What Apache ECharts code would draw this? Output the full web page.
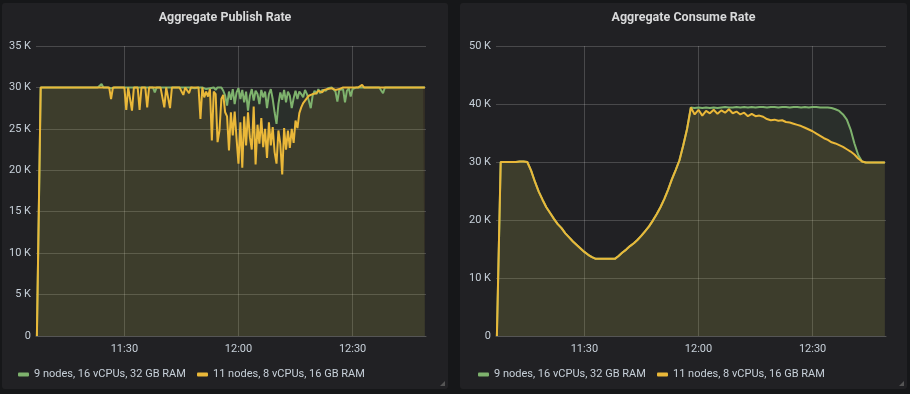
<!DOCTYPE html>
<html><head><meta charset="utf-8">
<script src="https://cdn.jsdelivr.net/npm/echarts@6/dist/echarts.min.js"></script>
<style>
html,body{margin:0;padding:0;background:#161719;width:910px;height:394px;overflow:hidden}
.panel{position:absolute;top:3px;height:386px;background:#212124;border-radius:3px}
#p1{left:2px;width:446px}
#p2{left:460px;width:447px}
</style></head><body>
<div id="p1" class="panel"></div><div id="p2" class="panel"></div>
<script>
// ---- data (values in thousands) ----
const seriesNames = ['9 nodes, 16 vCPUs, 32 GB RAM', '11 nodes, 8 vCPUs, 16 GB RAM'];
const titles = ['Aggregate Publish Rate', 'Aggregate Consume Rate'];
const startTime = '11:07';            // first sample
const publishStepSec = 30;            // publish sampling step
const consumeStepSec = 60;            // consume sampling step
const yTicksPublish = [0, 5, 10, 15, 20, 25, 30, 35];
const yTicksConsume = [0, 10, 20, 30, 40, 50];
const xTickLabels = ['11:30', '12:00', '12:30'];

// Publish rate, 30 s samples from 11:07
const publishGreen = [
  0,15,30,30,30,30,30,30,30,30,
  30,30.1,30,30,30,30,30,30,30,30,
  30,30,30,30,30,30,30,30,30,30,
  30,30,30,30,30.4,30,30,30,30,29.9,
  30,30,30,30,30,30,30,30,30,30,
  30,30,30,30,30,30,30,30,30,30,
  30,30,29.4,30,30,30,30,30,30,30,
  30,30,30,30,30,30,29.8,30,30,30,
  30,30,30,29.9,30,30,30,30,30,29.8,
  30,29.9,30,30,29.7,30,29.8,30,29.6,29.0,
  27.8,29.5,28.5,29.8,28.0,29.4,29.9,28.6,29.7,28.2,
  29.5,27.2,29.0,29.8,28.4,29.6,29.2,28.0,29.7,28.8,
  29.5,27.5,29.2,29.8,28.6,27.0,25.6,28.0,29.4,28.5,
  29.7,28.2,29.5,29.0,27.5,28.7,29.6,28.6,29.5,29.2,
  28.8,29.7,29.2,28.4,27.5,29.0,29.6,29.2,29.8,29.3,
  29.7,29.9,29.6,29.9,29.7,30.0,29.8,29.5,28.3,29.7,
  29.9,29.8,28.2,29.6,29.9,28.9,29.8,30,30,30,
  30,30,30,30,30,30,30,30,30,30,
  30,30,29.3,30,30,30,30,30,30,30,
  30,30,30,30,30,30,30,30,30,30,
  30,30,30,30,30
];
const publishYellow = [
  0,15,30,30,30,30,30,30,30,30,
  30,30,30,30,30,30,30,30,30,30,
  30,30,30,30,30,30,30,30,30,30,
  30,30,30,30,30,30,30,30,30,28.6,
  30,30,30,30,30,30,30,27.3,30,30,
  27.2,30,30,30,27.3,30,30,30,27.6,30,
  30,30,30,30,30,30,30,27.6,30,30,
  27.5,30,30,30,30,30,30,29.1,30,30,
  29.3,30,30,30,30,30,26.2,30,28.8,29.5,
  28.9,29.8,23.6,29.5,29.2,23.4,24.8,28.6,29.1,27.0,
  26.5,22.4,27.0,24.2,27.1,23.8,20.8,25.8,20.3,26.5,
  23.0,27.0,24.0,22.5,27.7,20.7,25.5,23.2,26.3,22.8,
  25.0,21.5,25.8,23.0,25.2,22.2,20.8,24.8,23.2,19.5,
  25.1,22.5,24.8,22.7,25.0,23.3,26.0,25.1,26.9,27.6,
  28.1,28.4,28.3,29.0,28.8,29.2,29.4,29.3,29.6,29.5,
  29.4,29.7,29.6,29.8,29.7,29.9,29.8,29.7,29.9,29.8,
  29.9,30,29.9,30,30,30,30,30,30,30,
  30,30.3,30,30,30,30,30,30,30,30,
  30,30,30,30,30,30,30,30,30,30,
  30,30,30,30,30,30,30,30,30,30,
  30,30,30,30,30
];

// Consume rate, 60 s samples from 11:07
const consumeGreen = [
  0,30.0,30.0,30.0,30.0,30.0,30.1,30.1,30.0,28.5,
  26.6,24.9,23.5,22.2,21.2,20.2,19.3,18.6,17.7,17.0,
  16.3,15.7,15.1,14.5,14.0,13.6,13.3,13.3,13.3,13.3,
  13.3,13.3,13.8,14.4,14.9,15.5,16.0,16.6,17.3,18.1,
  18.9,19.9,21.0,22.2,23.6,25.2,27.0,28.6,30.3,32.9,
  35.7,39.4,39.3,39.4,39.3,39.4,39.3,39.4,39.3,39.4,
  39.5,39.4,39.4,39.5,39.4,39.5,39.4,39.5,39.4,39.5,
  39.5,39.4,39.5,39.5,39.4,39.5,39.5,39.4,39.5,39.5,
  39.4,39.5,39.4,39.5,39.5,39.4,39.4,39.4,39.3,39.1,
  38.8,38.2,37.3,35.6,33.2,31.2,30.1,29.9,29.9,29.9,
  29.9,29.9,29.9
];
const consumeYellow = [
  0,30.0,30.0,30.0,30.0,30.0,30.1,30.1,30.0,28.5,
  26.6,24.9,23.5,22.2,21.2,20.2,19.3,18.6,17.7,17.0,
  16.3,15.7,15.1,14.5,14.0,13.6,13.3,13.3,13.3,13.3,
  13.3,13.3,13.8,14.4,14.9,15.5,16.0,16.6,17.3,18.1,
  18.9,19.9,21.0,22.2,23.6,25.2,27.0,28.6,30.3,32.9,
  35.7,39.4,38.2,39.0,38.0,38.8,38.4,39.0,38.3,38.9,
  38.5,39.1,38.4,38.7,38.2,38.5,37.9,38.3,37.9,38.0,
  37.8,37.4,37.2,37.3,37.1,37.2,36.9,36.8,36.6,36.4,
  36.2,35.9,35.6,35.3,34.9,34.5,34.1,33.8,33.4,33.2,
  32.9,32.6,32.2,31.8,31.3,30.6,30.1,29.9,29.9,29.9,
  29.9,29.9,29.9
];

// ---- build (x in minutes of the day) ----
function hm(s){ const [h,m]=s.split(':').map(Number); return h*60+m; }
function times(n, stepSec){ const t0 = hm(startTime); const a=[]; for(let i=0;i<n;i++) a.push(t0 + i*stepSec/60); return a; }
function pairs(ts, vals){ return vals.map((v,i)=>[ts[i], v]); }
const xMin = hm('11:06') + 46/60;
const xMax = hm('12:49') + 18/60;
const xTickValues = xTickLabels.map(hm);
const GREEN = '#7eb26d', YELLOW = '#eab839';
const FONT = 'Roboto, "Open Sans", sans-serif';
function fmtHM(v){ const h=Math.floor(v/60), m=Math.round(v-h*60); return String(h).padStart(2,'0')+':'+String(m).padStart(2,'0'); }

function makeOption(title, ts, g, y, yTicks, grid, legendLefts){
  const yInt = yTicks[1]-yTicks[0];
  const legendBase = { top: 366, padding: 0, itemWidth: 11, itemHeight: 4, itemGap: 11, icon: 'roundRect',
      textStyle: { color: '#c7d0d9', fontSize: 11, fontFamily: FONT } };
  return {
    animation: false,
    title: { text: title, left: 'center', top: 8, padding: 0,
      textStyle: { color: '#d8d9da', fontSize: 12.5, fontWeight: 'bold', fontFamily: FONT } },
    legend: [
      Object.assign({}, legendBase, { left: legendLefts[0], data: [seriesNames[0]] }),
      Object.assign({}, legendBase, { left: legendLefts[1], data: [seriesNames[1]] })
    ],
    grid: grid,
    xAxis: { type: 'value', min: xMin, max: xMax,
      axisLine: { show: true, onZero: false, lineStyle: { color: '#555' } },
      axisTick: { show: false, customValues: xTickValues },
      splitLine: { show: true, lineStyle: { color: 'rgba(255,255,255,0.18)', width: 1 } },
      axisLabel: { color: '#c7d0d9', fontSize: 11, fontFamily: FONT, margin: 8,
        customValues: xTickValues, formatter: fmtHM } },
    yAxis: { type: 'value', min: yTicks[0], max: yTicks[yTicks.length-1], interval: yInt,
      axisLine: { show: false }, axisTick: { show: false },
      splitLine: { show: true, lineStyle: { color: 'rgba(255,255,255,0.18)', width: 1 } },
      axisLabel: { color: '#c7d0d9', fontSize: 11, fontFamily: FONT, margin: 5,
        formatter: v => v === 0 ? '0' : v + ' K' } },
    graphic: [{ type: 'polygon', right: 3, bottom: 3,
      shape: { points: [[0,5],[5,0],[5,5]] }, style: { fill: '#555' } }],
    series: [
      { name: seriesNames[0], type: 'line', data: pairs(ts, g), showSymbol: false, symbol: 'none',
        lineStyle: { color: GREEN, width: 2 }, itemStyle: { color: GREEN },
        areaStyle: { color: GREEN, opacity: 0.1 } },
      { name: seriesNames[1], type: 'line', data: pairs(ts, y), showSymbol: false, symbol: 'none',
        lineStyle: { color: YELLOW, width: 2 }, itemStyle: { color: YELLOW },
        areaStyle: { color: YELLOW, opacity: 0.1 } }
    ]
  };
}

const c1 = echarts.init(document.getElementById('p1'));
c1.setOption(makeOption(titles[0], times(publishYellow.length, publishStepSec), publishGreen, publishYellow,
  yTicksPublish, { left: 34, right: 22, top: 43, bottom: 53 }, [16, 195]));
const c2 = echarts.init(document.getElementById('p2'));
c2.setOption(makeOption(titles[1], times(consumeYellow.length, consumeStepSec), consumeGreen, consumeYellow,
  yTicksConsume, { left: 36, right: 21, top: 43, bottom: 53 }, [18, 197]));
</script>
</body></html>
